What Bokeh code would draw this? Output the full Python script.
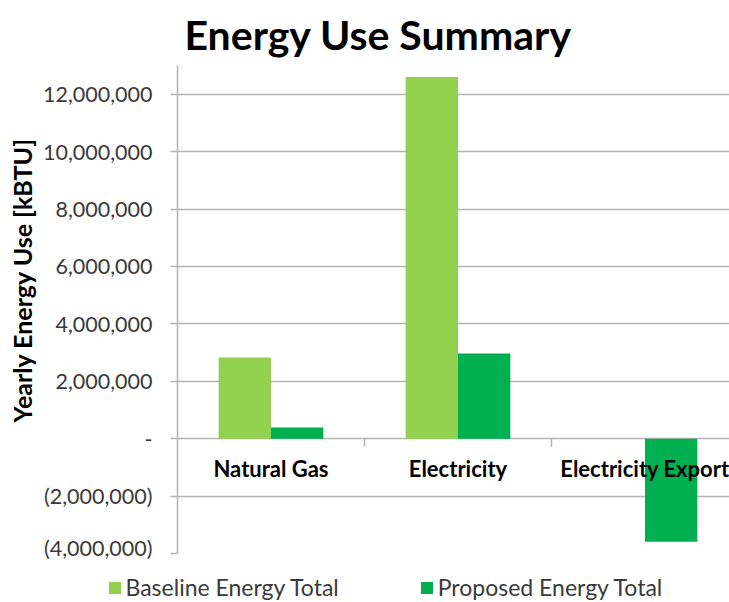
from bokeh.core.properties import value
from bokeh.embed import file_html
from bokeh.layouts import column
from bokeh.models import (ColumnDataSource, FixedTicker, Legend, LegendItem,
                          Range1d, Title)
from bokeh.plotting import figure
from bokeh.resources import INLINE
from bokeh.transform import dodge

# Yearly energy use per source [kBTU]
categories = ["Natural Gas", "Electricity", "Electricity Export"]
baseline_total = [2830000, 12600000, 0]
proposed_total = [390000, 2970000, -3590000]
series_names = ["Baseline Energy Total", "Proposed Energy Total"]

# Value axis ticks and their accounting-style labels
y_ticks = [-4000000, -2000000, 0, 2000000, 4000000, 6000000, 8000000, 10000000, 12000000]
y_tick_labels = ["(4,000,000)", "(2,000,000)", "-", "2,000,000", "4,000,000",
                 "6,000,000", "8,000,000", "10,000,000", "12,000,000"]

FONT = "Lato"
GRID = "#B3B3B3"
BASE_COLOR = "#92D050"
PROP_COLOR = "#00B050"

src = ColumnDataSource(dict(
    x=[i + 0.5 for i in range(len(categories))],
    cat=categories,
    base=baseline_total,
    prop=proposed_total,
))

p = figure(
    width=729, height=560,
    x_range=Range1d(0, 2.952), y_range=Range1d(-4000000, 13000000),
    output_backend="svg", toolbar_location=None, x_axis_location=None,
    min_border_left=177, min_border_right=0, min_border_top=65, min_border_bottom=7,
    outline_line_color=None, background_fill_color="white", border_fill_color="white",
)
p.frame_align = False

# Title
p.title.text = "Energy Use Summary"
p.title.align = "left"
p.title.offset = 7
p.title.standoff = 13
p.title.text_font = FONT
p.title.text_font_style = "bold"
p.title.text_font_size = "41px"
p.title.text_color = "black"

# Bars, side by side within each category
bar_w = 0.28
bar_kw = dict(width=bar_w, source=src, bottom=0, line_color=None)
r_base = p.vbar(x=dodge("x", -bar_w / 2, range=p.x_range), top="base",
                fill_color=BASE_COLOR, **bar_kw)
r_prop = p.vbar(x=dodge("x", bar_w / 2, range=p.x_range), top="prop",
                fill_color=PROP_COLOR, **bar_kw)

# Category separators hanging below the zero line
bounds = [float(i) for i in range(1, len(categories))]
p.segment(x0=bounds, y0=[0] * len(bounds), x1=bounds, y1=[-280000] * len(bounds),
          line_color=GRID, line_width=1.5)

# Category names sit just under the zero line
p.text(x="x", y=0, text="cat", source=src, text_font=value(FONT),
       text_font_style="bold", text_font_size="22px", text_color="black",
       text_align="center", text_baseline="alphabetic", y_offset=30)

# Value axis
ax = p.yaxis[0]
ax.ticker = FixedTicker(ticks=y_ticks)
ax.major_label_overrides = dict(zip(y_ticks, y_tick_labels))
ax.axis_line_color = GRID
ax.axis_line_width = 1.5
ax.major_tick_line_color = GRID
ax.major_tick_line_width = 1.5
ax.major_tick_out = 7
ax.major_tick_in = 0
ax.minor_tick_out = 0
ax.minor_tick_in = 0
ax.major_label_standoff = 18
ax.major_label_text_font = FONT
ax.major_label_text_font_size = "21.5px"
ax.major_label_text_color = "#3A3A3A"

p.ygrid.grid_line_color = GRID
p.ygrid.grid_line_width = 1.5
p.xgrid.visible = False

# Value-axis caption, outside the tick labels
p.add_layout(Title(text="Yearly Energy Use [kBTU]", align="left", offset=131,
                   standoff=6, text_font=FONT, text_font_style="bold",
                   text_font_size="25px", text_color="black"), "left")

# Legend strip under the chart; its swatch renderers share the bar data but
# sit well outside the strip's visible ranges, so only the legend shows
leg = figure(
    width=729, height=42, x_range=Range1d(10, 11), y_range=Range1d(20e6, 21e6),
    output_backend="svg", toolbar_location=None,
    x_axis_location=None, y_axis_location=None,
    min_border=0, outline_line_color=None,
    background_fill_color="white", border_fill_color="white",
)
leg.frame_align = False
leg.xgrid.visible = False
leg.ygrid.visible = False
swatches = [
    leg.vbar(x="x", top="base", bottom=0, width=bar_w, source=src,
             fill_color=BASE_COLOR, line_color=None),
    leg.vbar(x="x", top="prop", bottom=0, width=bar_w, source=src,
             fill_color=PROP_COLOR, line_color=None),
]
legend = Legend(
    items=[LegendItem(label=n, renderers=[r]) for n, r in zip(series_names, swatches)],
    location=(106.5, 1), orientation="horizontal",
    border_line_color=None, background_fill_alpha=0,
    padding=0, margin=0, spacing=80, glyph_width=15, glyph_height=15,
    label_standoff=4, label_height=24, label_text_font=FONT,
    label_text_font_size="23px", label_text_color="#3A3A3A",
)
leg.add_layout(legend)

open("out.html", "w").write(file_html(column(p, leg, spacing=0), INLINE))
